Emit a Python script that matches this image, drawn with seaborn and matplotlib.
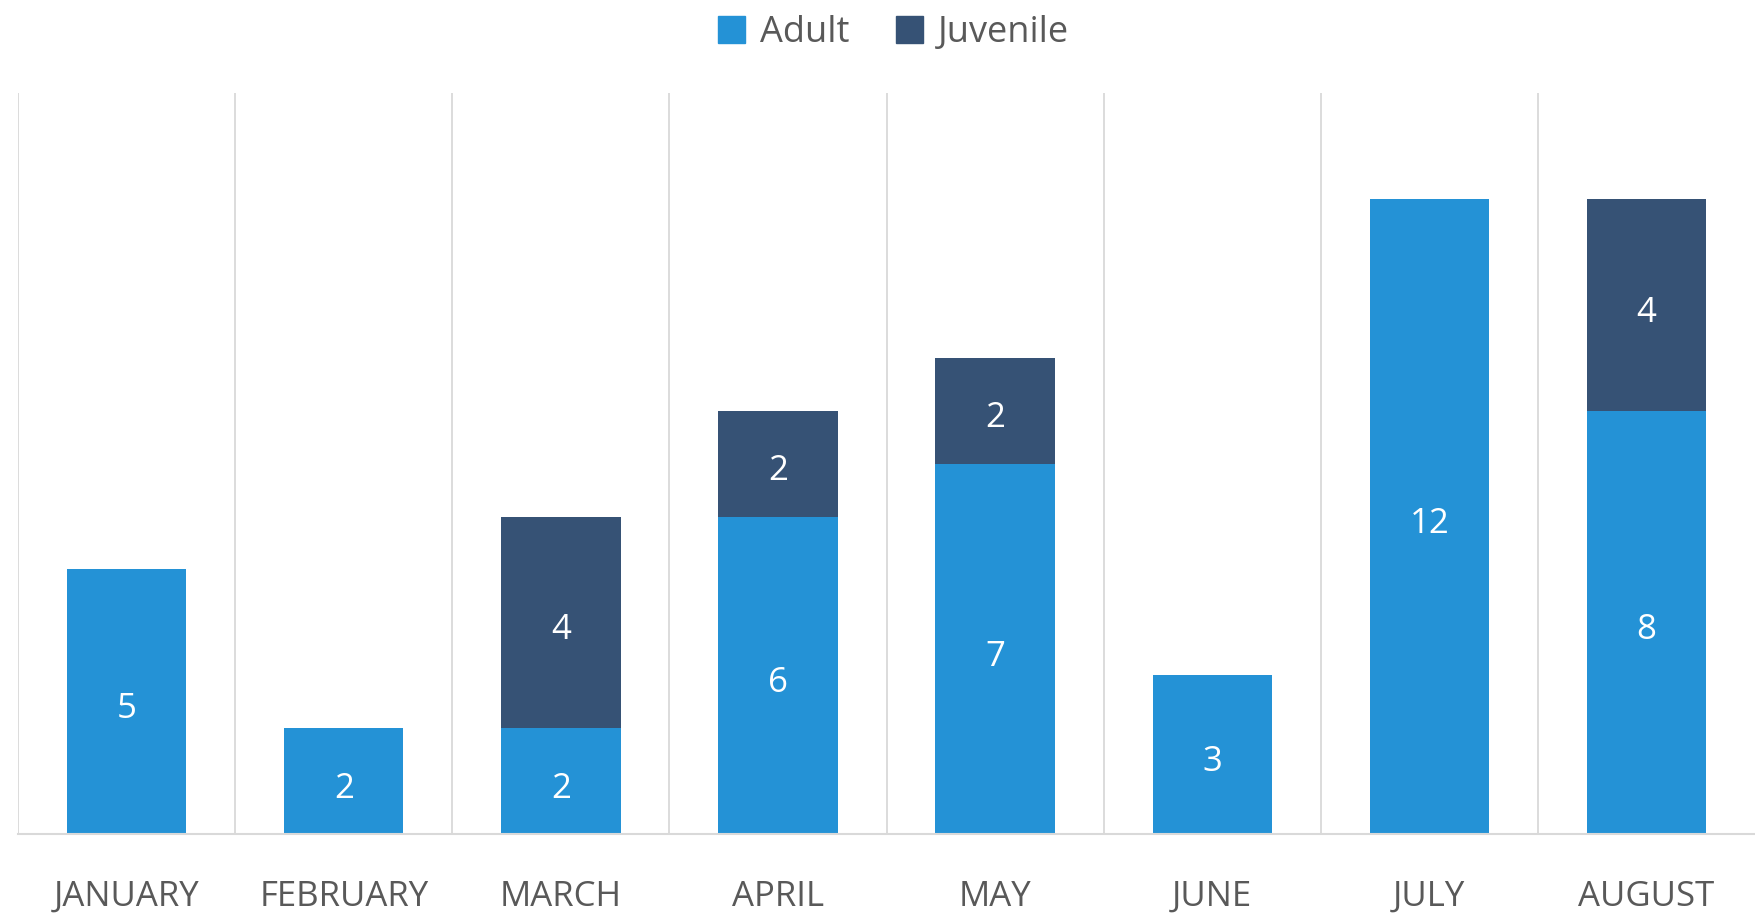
import numpy as np
import pandas as pd
import seaborn as sns
import matplotlib.pyplot as plt
from matplotlib.patches import Patch

# data
months = ['JANUARY', 'FEBRUARY', 'MARCH', 'APRIL', 'MAY', 'JUNE', 'JULY', 'AUGUST']
adult = [5, 2, 2, 6, 7, 3, 12, 8]
juvenile = [0, 0, 4, 2, 2, 0, 0, 4]

adult_color = '#2492D6'
juv_color = '#365275'
text_color = '#595959'
grid_color = '#D9D9D9'

df = pd.DataFrame({'month': months, 'Adult': adult, 'Juvenile': juvenile})
df['total'] = df['Adult'] + df['Juvenile']

sns.set_style('white')
plt.rcParams['font.family'] = ['Open Sans', 'DejaVu Sans']

fig = plt.figure(figsize=(17.55, 9.15), dpi=100)
ax = fig.add_axes([0.0103, 0.0885, 0.9897, 0.8095])

# stacked bars: totals in juvenile colour, adult drawn on top
sns.barplot(data=df, x='month', y='total', color=juv_color, width=0.55,
            saturation=1, linewidth=0, ax=ax)
sns.barplot(data=df, x='month', y='Adult', color=adult_color, width=0.55,
            saturation=1, linewidth=0, ax=ax)

# value labels
for i, row in df.iterrows():
    ax.text(i, row['Adult'] / 2 - 0.07, str(row['Adult']), ha='center',
            va='center_baseline', color='white', fontsize=25)
    if row['Juvenile'] > 0:
        ax.text(i, row['Adult'] + row['Juvenile'] / 2 - 0.07, str(row['Juvenile']),
                ha='center', va='center_baseline', color='white', fontsize=25)

ax.set_xlim(-0.5, 7.5)
ax.set_ylim(0, 14)
for b in np.arange(-0.5, 7.5, 1):
    ax.axvline(b, color=grid_color, lw=1.3, zorder=0)

for s in ['top', 'right', 'left']:
    ax.spines[s].set_visible(False)
ax.spines['bottom'].set_color(grid_color)
ax.spines['bottom'].set_linewidth(1.5)

ax.set_yticks([])
ax.set_xlabel('')
ax.set_ylabel('')
ax.tick_params(axis='x', length=0, pad=33, labelsize=25, labelcolor=text_color)

handles = [Patch(color=adult_color, label='Adult'),
           Patch(color=juv_color, label='Juvenile')]
fig.legend(handles=handles, loc='center', bbox_to_anchor=(0.509, 0.964), ncol=2,
           frameon=False, fontsize=26, labelcolor=text_color, handlelength=0.75,
           handleheight=0.75, handletextpad=0.4, columnspacing=1.3)

plt.savefig('out.png', dpi=100)
